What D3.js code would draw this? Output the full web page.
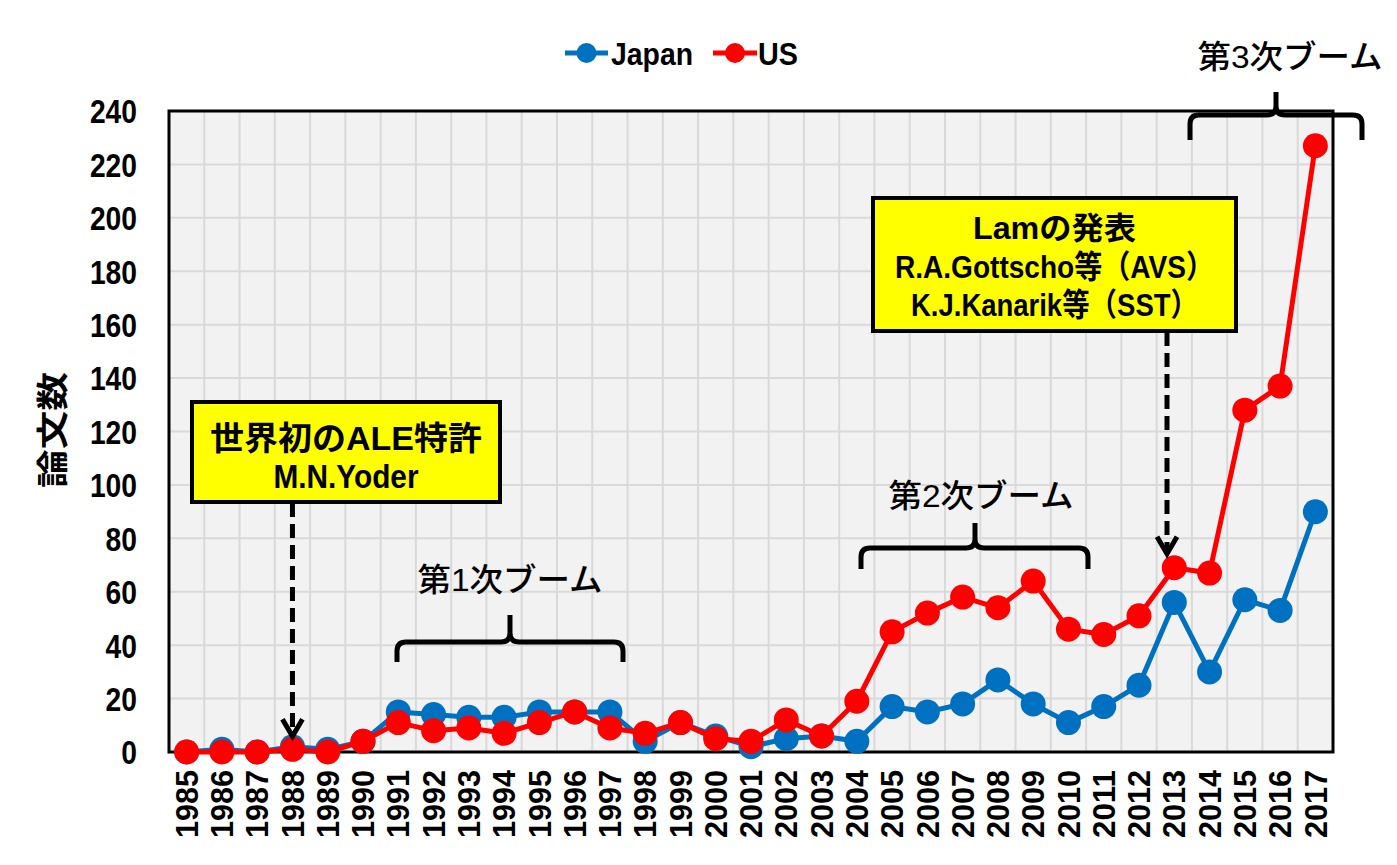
<!DOCTYPE html>
<html>
<head>
<meta charset="utf-8">
<script src="https://cdn.jsdelivr.net/npm/d3@7"></script>
<style>
  html, body { margin: 0; padding: 0; background: #ffffff; }
  svg { display: block; }
  text { font-family: "Liberation Sans", Arial, "Noto Sans CJK JP", sans-serif; }
</style>
</head>
<body>
<svg id="chart" width="1397" height="865"></svg>
<script>
// ---- data ----
const years = ["1985","1986","1987","1988","1989","1990","1991","1992","1993","1994","1995","1996","1997","1998","1999","2000","2001","2002","2003","2004","2005","2006","2007","2008","2009","2010","2011","2012","2013","2014","2015","2016","2017"];
const japan = [0,1,0,2,1,4,15,14,13,13,15,15,15,4,11,6,2,5,6,4,17,15,18,27,18,11,17,25,56,30,57,53,90];
const us    = [0,0,0,1,0,4,11,8,9,7,11,15,9,7,11,5,4,12,6,19,45,52,58,54,64,46,44,51,69,67,128,137,227];
const yTicks = [0,20,40,60,80,100,120,140,160,180,200,220,240];
const seriesNames = ["Japan", "US"];
const seriesColors = ["#0070C0", "#FF0000"];
const yTitle = "論文数";
const boomLabels = ["第1次ブーム", "第2次ブーム", "第3次ブーム"];
const box1Lines = ["世界初のALE特許", "M.N.Yoder"];
const box2Lines = ["Lamの発表", "R.A.Gottscho等（AVS）", "K.J.Kanarik等（SST）"];

// ---- layout ----
const svg = d3.select("#chart");
const L = 169, R = 1333, T = 111, B = 752;

const x = d3.scaleBand().domain(years).range([L, R]).padding(0);
const y = d3.scaleLinear().domain([0, 240]).range([B, T]);
const cx = d => x(d) + x.bandwidth() / 2;

svg.append("rect").attr("width", 1397).attr("height", 865).attr("fill", "#ffffff");

// plot background
svg.append("rect").attr("x", L).attr("y", T).attr("width", R - L).attr("height", B - T).attr("fill", "#F2F2F2");

// grid
const grid = svg.append("g").attr("stroke", "#D9D9D9").attr("stroke-width", 2);
grid.selectAll("line.h").data(yTicks.slice(1, -1)).join("line")
  .attr("x1", L).attr("x2", R).attr("y1", d => y(d)).attr("y2", d => y(d));
grid.selectAll("line.v").data(years.slice(1)).join("line")
  .attr("x1", d => x(d)).attr("x2", d => x(d)).attr("y1", T).attr("y2", B);

// frame
svg.append("rect").attr("x", L).attr("y", T).attr("width", R - L).attr("height", B - T)
  .attr("fill", "none").attr("stroke", "#000").attr("stroke-width", 3);

// y axis labels
const yAxis = svg.append("g").attr("transform", `translate(${L - 32},0)`)
  .call(d3.axisLeft(y).tickValues(yTicks).tickSize(0).tickPadding(0));
yAxis.select(".domain").remove();
yAxis.selectAll("text")
  .attr("font-size", 33).attr("font-weight", "bold").attr("fill", "#000")
  .attr("font-family", "'Liberation Sans', Arial, sans-serif")
  .attr("dy", "0.36em")
  .attr("textLength", d => String(d).length * 15.7)
  .attr("lengthAdjust", "spacingAndGlyphs");

// x axis labels (rotated)
const xAxis = svg.append("g").attr("transform", `translate(0,${B + 18})`)
  .call(d3.axisBottom(x).tickSize(0).tickPadding(0));
xAxis.select(".domain").remove();
xAxis.selectAll("text")
  .attr("font-size", 31).attr("font-weight", "bold").attr("fill", "#000")
  .attr("font-family", "'Liberation Sans', Arial, sans-serif")
  .attr("text-anchor", "end")
  .attr("transform", "rotate(-90)")
  .attr("x", 0).attr("y", 0).attr("dy", "0.36em")
  .attr("textLength", 68).attr("lengthAdjust", "spacingAndGlyphs");

// y title
svg.append("text")
  .attr("transform", "translate(53,430) scale(0.8,1) rotate(-90)")
  .attr("text-anchor", "middle").attr("dominant-baseline", "central")
  .attr("font-family", "'Noto Sans CJK JP', sans-serif")
  .attr("font-size", 40).attr("font-weight", "bold")
  .attr("textLength", 116).attr("lengthAdjust", "spacingAndGlyphs")
  .text(yTitle);

// series
const series = [japan, us];
const line = d3.line().x((d, i) => cx(years[i])).y(d => y(d));
series.forEach((vals, si) => {
  const g = svg.append("g");
  g.append("path").datum(vals).attr("d", line)
    .attr("fill", "none").attr("stroke", seriesColors[si]).attr("stroke-width", 5)
    .attr("stroke-linejoin", "round");
  g.selectAll("circle").data(vals).join("circle")
    .attr("cx", (d, i) => cx(years[i])).attr("cy", d => y(d)).attr("r", 12.5)
    .attr("fill", seriesColors[si]);
});

// legend
const legendItems = [
  {x0: 565, x1: 608, tx: 611, tw: 82},
  {x0: 713, x1: 757, tx: 758, tw: 40}
];
legendItems.forEach((it, i) => {
  const g = svg.append("g");
  g.append("line").attr("x1", it.x0).attr("x2", it.x1).attr("y1", 53).attr("y2", 53)
    .attr("stroke", seriesColors[i]).attr("stroke-width", 5);
  g.append("circle").attr("cx", (it.x0 + it.x1) / 2).attr("cy", 53).attr("r", 10).attr("fill", seriesColors[i]);
  g.append("text").attr("x", it.tx).attr("y", 54).attr("dominant-baseline", "central")
    .attr("font-size", 31).attr("font-weight", "bold")
    .attr("textLength", it.tw).attr("lengthAdjust", "spacingAndGlyphs")
    .text(seriesNames[i]);
});

// braces
function brace(x0, x1, xc, yh, yb, yt) {
  const r = 9;
  const p = d3.path();
  p.moveTo(x0, yb); p.lineTo(x0, yh + r); p.quadraticCurveTo(x0, yh, x0 + r, yh);
  p.lineTo(xc - r, yh); p.quadraticCurveTo(xc, yh, xc, yh - r); p.lineTo(xc, yt);
  p.moveTo(xc, yh - r); p.quadraticCurveTo(xc, yh, xc + r, yh);
  p.lineTo(x1 - r, yh); p.quadraticCurveTo(x1, yh, x1, yh + r); p.lineTo(x1, yb);
  svg.append("path").attr("d", p.toString()).attr("fill", "none")
    .attr("stroke", "#000").attr("stroke-width", 5).attr("stroke-linecap", "butt");
}
brace(397, 623, 510, 642, 662, 615);
brace(861, 1088, 975, 548, 569, 523);
brace(1190, 1362, 1276, 115, 140, 92);

const boomPos = [{x: 510, y: 580}, {x: 981, y: 496}, {x: 1290, y: 57}];
boomLabels.forEach((t, i) => {
  svg.append("text").attr("x", boomPos[i].x).attr("y", boomPos[i].y)
    .attr("text-anchor", "middle").attr("dominant-baseline", "central")
    .attr("font-family", "'Noto Sans CJK JP', sans-serif")
    .attr("font-size", 32).attr("font-weight", 500)
    .attr("textLength", 185).attr("lengthAdjust", "spacingAndGlyphs")
    .text(t);
});

// dashed arrows
function arrow(ax, y0, y1) {
  svg.append("line").attr("x1", ax).attr("x2", ax).attr("y1", y0).attr("y2", y1 - 4)
    .attr("stroke", "#000").attr("stroke-width", 5).attr("stroke-dasharray", "14,7");
  svg.append("path").attr("d", `M${ax - 10},${y1 - 17} L${ax},${y1} L${ax + 10},${y1 - 17}`)
    .attr("fill", "none").attr("stroke", "#000").attr("stroke-width", 5);
}
arrow(cx("1988"), 503, y(us[3]) - 13);
arrow(1167, 332, y(us[28]) - 14);

// annotation boxes
function box(x0, y0, w, h, lines, ys, fs, widths) {
  svg.append("rect").attr("x", x0).attr("y", y0).attr("width", w).attr("height", h)
    .attr("fill", "#FFFF00").attr("stroke", "#000").attr("stroke-width", 4);
  lines.forEach((t, i) => {
    svg.append("text").attr("x", x0 + w / 2).attr("y", ys[i])
      .attr("text-anchor", "middle").attr("dominant-baseline", "central")
      .attr("font-size", fs[i]).attr("font-weight", "bold")
      .attr("textLength", widths[i]).attr("lengthAdjust", "spacingAndGlyphs")
      .text(t);
  });
}
box(192, 402, 308, 100, box1Lines, [438, 476], [33, 34], [272, 145]);
box(873, 198, 363, 133, box2Lines, [228, 267, 305], [31, 32, 32], [163, 319, 287]);
</script>
</body>
</html>
